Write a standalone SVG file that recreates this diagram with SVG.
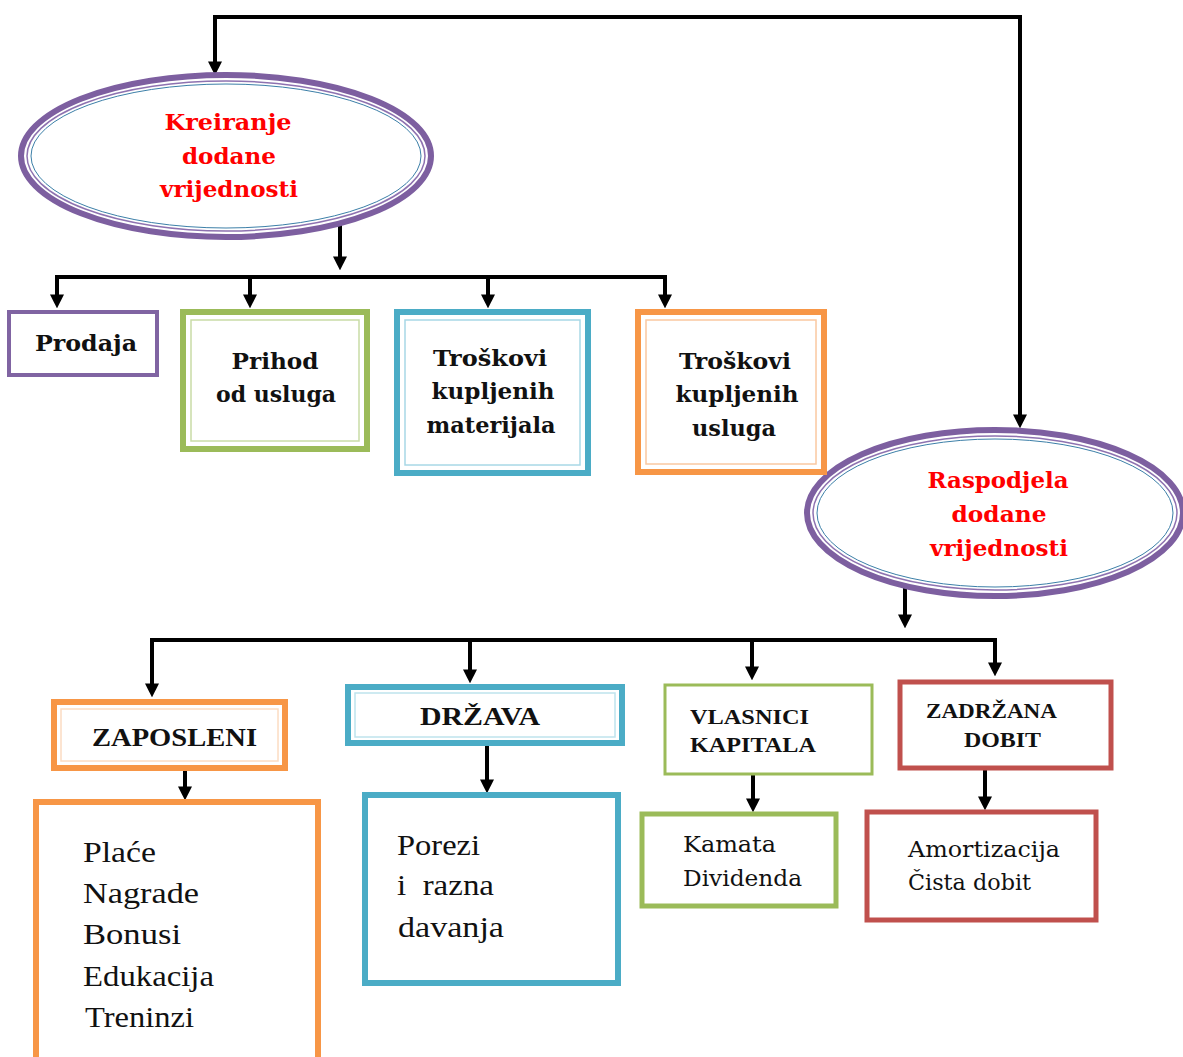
<svg xmlns="http://www.w3.org/2000/svg" width="1183" height="1057" viewBox="0 0 1183 1057">
<defs>
<marker id="ah" viewBox="0 0 10 10" refX="4" refY="5" markerWidth="14" markerHeight="14" markerUnits="userSpaceOnUse" orient="auto">
<path d="M0,0 L10,5 L0,10 z" fill="#000"/>
</marker>
<style>
.con{fill:none;stroke:#000;stroke-width:4;stroke-linecap:butt;stroke-linejoin:miter}
.arr{marker-end:url(#ah)}
.ell{fill:#fff;stroke:#7D5FA0;stroke-width:6}
.ell2{fill:none;stroke:#8E72B0;stroke-width:1.5}
.ell3{fill:none;stroke:#3C7FA8;stroke-width:1}
.red{font-family:"DejaVu Serif",serif;font-weight:bold;font-size:23px;fill:#FF0000;text-anchor:middle}
.bl{font-family:"DejaVu Serif",serif;font-weight:bold;font-size:22px;fill:#111;text-anchor:middle}
.caps{font-family:"Liberation Serif",serif;font-weight:bold;font-size:25px;fill:#111}
.reg{font-family:"Liberation Serif",serif;font-size:30px;fill:#111;white-space:pre}
.reg2{font-family:"DejaVu Serif",serif;font-size:23px;fill:#111}
.box{fill:#fff}
.pur{stroke:#8064A2}
.grn{stroke:#9BBB59}
.blu{stroke:#4BACC6}
.org{stroke:#F79646}
.rd{stroke:#C0504D}
.in{fill:none;stroke-width:1.5}
</style>
</defs>

<g id="connectors">
<path class="con arr" d="M610,17 H215 V67"/>
<path class="con arr" d="M610,17 H1020 V420"/>
<path class="con arr" d="M340,222 V262"/>
<path class="con" d="M55,277 H667"/>
<path class="con arr" d="M57,277 V300"/>
<path class="con arr" d="M250,277 V300"/>
<path class="con arr" d="M488,277 V300"/>
<path class="con arr" d="M665,277 V300"/>
<path class="con arr" d="M905,586 V620"/>
<path class="con" d="M150,640 H997"/>
<path class="con arr" d="M152,640 V689"/>
<path class="con arr" d="M470,640 V675"/>
<path class="con arr" d="M752,640 V672"/>
<path class="con arr" d="M995,640 V668"/>
<path class="con arr" d="M185,770 V792"/>
<path class="con arr" d="M487,745 V785"/>
<path class="con arr" d="M753,775 V804"/>
<path class="con arr" d="M985,770 V802"/>
</g>

<g id="kreiranje">
<ellipse class="ell" cx="226" cy="156" rx="205" ry="81"/>
<ellipse class="ell2" cx="226" cy="156" rx="199" ry="75"/>
<ellipse class="ell3" cx="226" cy="156" rx="195" ry="72"/>
<text class="red" x="228" y="130" textLength="127" lengthAdjust="spacingAndGlyphs">Kreiranje</text>
<text class="red" x="229" y="164" textLength="94" lengthAdjust="spacingAndGlyphs">dodane</text>
<text class="red" x="229" y="197" textLength="138" lengthAdjust="spacingAndGlyphs">vrijednosti</text>
</g>

<g id="raspodjela">
<ellipse class="ell" cx="995" cy="513" rx="188" ry="83"/>
<ellipse class="ell2" cx="995" cy="513" rx="182" ry="77"/>
<ellipse class="ell3" cx="995" cy="513" rx="178" ry="74"/>
<text class="red" x="998" y="488" textLength="141" lengthAdjust="spacingAndGlyphs">Raspodjela</text>
<text class="red" x="999" y="522" textLength="95" lengthAdjust="spacingAndGlyphs">dodane</text>
<text class="red" x="999" y="556" textLength="138" lengthAdjust="spacingAndGlyphs">vrijednosti</text>
</g>

<g id="prodaja">
<rect class="box pur" x="9" y="312" width="148" height="63" stroke-width="4"/>
<text class="bl" x="86" y="351" textLength="102" lengthAdjust="spacingAndGlyphs">Prodaja</text>
</g>

<g id="prihod">
<rect class="box grn" x="183" y="312" width="184" height="137" stroke-width="6"/>
<rect class="in" x="191" y="320" width="168" height="121" stroke="#C9DCA6"/>
<text class="bl" x="275" y="369" textLength="87" lengthAdjust="spacingAndGlyphs">Prihod</text>
<text class="bl" x="276" y="402" textLength="120" lengthAdjust="spacingAndGlyphs">od usluga</text>
</g>

<g id="troskovi-materijala">
<rect class="box blu" x="397" y="312" width="191" height="161" stroke-width="6"/>
<rect class="in" x="405" y="320" width="175" height="145" stroke="#A8D8E6"/>
<text class="bl" x="490" y="366" textLength="114" lengthAdjust="spacingAndGlyphs">Troškovi</text>
<text class="bl" x="493" y="399" textLength="123" lengthAdjust="spacingAndGlyphs">kupljenih</text>
<text class="bl" x="491" y="433" textLength="129" lengthAdjust="spacingAndGlyphs">materijala</text>
</g>

<g id="troskovi-usluga">
<rect class="box org" x="638" y="312" width="186" height="160" stroke-width="6"/>
<rect class="in" x="646" y="320" width="170" height="144" stroke="#FAC8A0"/>
<text class="bl" x="735" y="369" textLength="112" lengthAdjust="spacingAndGlyphs">Troškovi</text>
<text class="bl" x="737" y="402" textLength="123" lengthAdjust="spacingAndGlyphs">kupljenih</text>
<text class="bl" x="734" y="436" textLength="84" lengthAdjust="spacingAndGlyphs">usluga</text>
</g>

<g id="zaposleni">
<rect class="box org" x="54" y="702" width="231" height="66" stroke-width="6"/>
<rect class="in" x="61" y="709" width="217" height="52" stroke="#FCDCC2" stroke-width="1"/>
<text class="caps" x="92" y="746" textLength="165" lengthAdjust="spacingAndGlyphs">ZAPOSLENI</text>
</g>

<g id="drzava">
<rect class="box blu" x="348" y="687" width="274" height="56" stroke-width="6"/>
<rect class="in" x="355" y="693" width="260" height="44" stroke="#BFE3ED" stroke-width="1"/>
<text class="caps" x="420" y="725" textLength="120" lengthAdjust="spacingAndGlyphs">DRŽAVA</text>
</g>

<g id="vlasnici">
<rect class="box grn" x="665" y="685" width="207" height="89" stroke-width="3"/>
<text class="caps" x="690" y="724" textLength="119" lengthAdjust="spacingAndGlyphs" style="font-size:22px">VLASNICI</text>
<text class="caps" x="690" y="752" textLength="126" lengthAdjust="spacingAndGlyphs" style="font-size:22px">KAPITALA</text>
</g>

<g id="zadrzana">
<rect class="box rd" x="900" y="682" width="211" height="86" stroke-width="5"/>
<text class="caps" x="926" y="718" textLength="131" lengthAdjust="spacingAndGlyphs" style="font-size:22px">ZADRŽANA</text>
<text class="caps" x="964" y="747" textLength="77" lengthAdjust="spacingAndGlyphs" style="font-size:22px">DOBIT</text>
</g>

<g id="place">
<rect class="box org" x="36" y="802" width="282" height="262" stroke-width="6"/>
<text class="reg" x="83" y="862" textLength="73" lengthAdjust="spacingAndGlyphs">Plaće</text>
<text class="reg" x="83" y="903" textLength="116" lengthAdjust="spacingAndGlyphs">Nagrade</text>
<text class="reg" x="83" y="944" textLength="98" lengthAdjust="spacingAndGlyphs">Bonusi</text>
<text class="reg" x="83" y="986" textLength="131" lengthAdjust="spacingAndGlyphs">Edukacija</text>
<text class="reg" x="85" y="1027" textLength="109" lengthAdjust="spacingAndGlyphs">Treninzi</text>
</g>

<g id="porezi">
<rect class="box blu" x="365" y="795" width="253" height="188" stroke-width="6"/>
<text class="reg" x="397" y="855" textLength="83" lengthAdjust="spacingAndGlyphs">Porezi</text>
<text class="reg" x="397" y="895" textLength="97" lengthAdjust="spacingAndGlyphs">i  razna</text>
<text class="reg" x="398" y="937" textLength="106" lengthAdjust="spacingAndGlyphs">davanja</text>
</g>

<g id="kamata">
<rect class="box grn" x="642" y="814" width="194" height="92" stroke-width="5"/>
<text class="reg2" x="683" y="852" textLength="93" lengthAdjust="spacingAndGlyphs">Kamata</text>
<text class="reg2" x="683" y="886" textLength="119" lengthAdjust="spacingAndGlyphs">Dividenda</text>
</g>

<g id="amortizacija">
<rect class="box rd" x="867" y="812" width="229" height="108" stroke-width="5"/>
<text class="reg2" x="908" y="857" textLength="152" lengthAdjust="spacingAndGlyphs">Amortizacija</text>
<text class="reg2" x="908" y="890" textLength="123" lengthAdjust="spacingAndGlyphs">Čista dobit</text>
</g>
</svg>
